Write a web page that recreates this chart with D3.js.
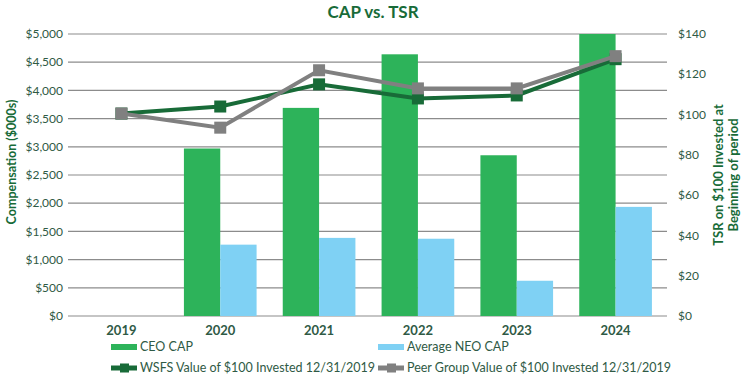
<!DOCTYPE html>
<html><head><meta charset="utf-8">
<script src="https://cdn.jsdelivr.net/npm/d3@7"></script>
<style>body{margin:0;background:#fff;} svg{display:block;font-family:Lato, "Open Sans", sans-serif;}</style>
</head><body>
<svg id="c" width="747" height="381"></svg>
<script>
const years = ["2019","2020","2021","2022","2023","2024"];
const ceoCap = [null, 2970, 3690, 4640, 2850, 5000];
const neoCap = [null, 1265, 1385, 1370, 625, 1935];
const wsfsTsr = [100.5, 104, 115, 108, 109.5, 127.5];
const peerTsr = [100.5, 93.5, 122, 113, 113, 129];
const leftTicks = [0,500,1000,1500,2000,2500,3000,3500,4000,4500,5000];
const rightTicks = [0,20,40,60,80,100,120,140];

const C = {ceo:"#2db35a", neo:"#7fd1f4", wsfs:"#186b38", peer:"#808080", grid:"#8c8c8c", text:"#2f5a45", title:"#186b38"};
const svg = d3.select("#c");
const L = 72, R = 665, T = 34, B = 316;

const x = d3.scaleBand().domain(years).range([L, R]).paddingInner(0).paddingOuter(0);
const xs = d3.scaleBand().domain(["ceo","neo"]).range([0, x.bandwidth()]).paddingInner(0).paddingOuter(0.36);
const yL = d3.scaleLinear().domain([0,5000]).range([B, T]);
const yR = d3.scaleLinear().domain([0,140]).range([B, T]);

// gridlines
svg.append("g").selectAll("line").data(leftTicks).join("line")
  .attr("x1", 68).attr("x2", 667)
  .attr("y1", d=>yL(d)).attr("y2", d=>yL(d))
  .attr("stroke", C.grid).attr("stroke-width", 1.2);

// axis labels
const fmt = d => "$" + d3.format(",")(d);
svg.append("g").selectAll("text").data(leftTicks).join("text")
  .attr("x", 63).attr("y", d=>yL(d)).attr("dy","0.35em")
  .attr("text-anchor","end").attr("font-size",12).attr("fill",C.text).text(fmt);
svg.append("g").selectAll("text").data(rightTicks).join("text")
  .attr("x", 678).attr("y", d=>yR(d)).attr("dy","0.35em")
  .attr("text-anchor","start").attr("font-size",12).attr("fill",C.text).text(d=>"$"+d);

// bars
const g = svg.append("g");
years.forEach((yr,i)=>{
  if (ceoCap[i] != null) g.append("rect").attr("x", x(yr)+xs("ceo")).attr("width", xs.bandwidth())
    .attr("y", yL(ceoCap[i])).attr("height", B - yL(ceoCap[i])).attr("fill", C.ceo);
  if (neoCap[i] != null) g.append("rect").attr("x", x(yr)+xs("neo")).attr("width", xs.bandwidth())
    .attr("y", yL(neoCap[i])).attr("height", B - yL(neoCap[i])).attr("fill", C.neo);
});

// lines
function drawLine(vals, color){
  const line = d3.line().x((d,i)=>x(years[i])+x.bandwidth()/2).y(d=>yR(d));
  svg.append("path").datum(vals).attr("d", line).attr("fill","none").attr("stroke",color).attr("stroke-width",4);
  svg.append("g").selectAll("rect").data(vals).join("rect")
    .attr("x",(d,i)=>x(years[i])+x.bandwidth()/2-6).attr("y",d=>yR(d)-6)
    .attr("width",12).attr("height",12).attr("fill",color);
}
drawLine(wsfsTsr, C.wsfs);
drawLine(peerTsr, C.peer);

// x labels
svg.append("g").selectAll("text").data(years).join("text")
  .attr("x", d=>x(d)+x.bandwidth()/2).attr("y", 330).attr("dy","0.35em")
  .attr("text-anchor","middle").attr("font-size",13).attr("font-weight","bold").attr("fill",C.text).text(d=>d);

// title
svg.append("text").attr("x", 373).attr("y", 12).attr("dy","0.35em").attr("text-anchor","middle")
  .attr("font-size",17).attr("font-weight","bold").attr("fill",C.title).text("CAP vs. TSR");

// axis titles
svg.append("text").attr("transform","translate(12,162) rotate(-90)").attr("dy","0.35em")
  .attr("text-anchor","middle").attr("font-size",12.5).attr("font-weight","bold").attr("fill",C.title)
  .text("Compensation ($000s)");
const rt = svg.append("text").attr("transform","translate(718,175) rotate(-90)")
  .attr("text-anchor","middle").attr("font-size",13).attr("font-weight","bold").attr("fill",C.title);
rt.append("tspan").attr("x",0).attr("dy","0.35em").text("TSR on $100 Invested at");
rt.append("tspan").attr("x",0).attr("dy","1.2em").text("Beginning of period");

// legend
const leg = [
  {label:"CEO CAP", type:"bar", color:C.ceo, x:111, y:347},
  {label:"Average NEO CAP", type:"bar", color:C.neo, x:378, y:347},
  {label:"WSFS Value of $100 Invested 12/31/2019", type:"line", color:C.wsfs, x:111, y:368},
  {label:"Peer Group Value of $100 Invested 12/31/2019", type:"line", color:C.peer, x:378, y:368}
];
leg.forEach(d=>{
  if (d.type==="bar") svg.append("rect").attr("x",d.x).attr("y",d.y-3).attr("width",26).attr("height",6).attr("fill",d.color);
  else {
    svg.append("rect").attr("x",d.x).attr("y",d.y-2.5).attr("width",26).attr("height",5).attr("fill",d.color);
    svg.append("rect").attr("x",d.x+9).attr("y",d.y-4.5).attr("width",9).attr("height",9).attr("fill",d.color);
  }
  svg.append("text").attr("x",d.x+29).attr("y",d.y).attr("dy","0.35em").attr("font-size",12.5).attr("fill",C.text).text(d.label);
});
</script>
</body></html>
